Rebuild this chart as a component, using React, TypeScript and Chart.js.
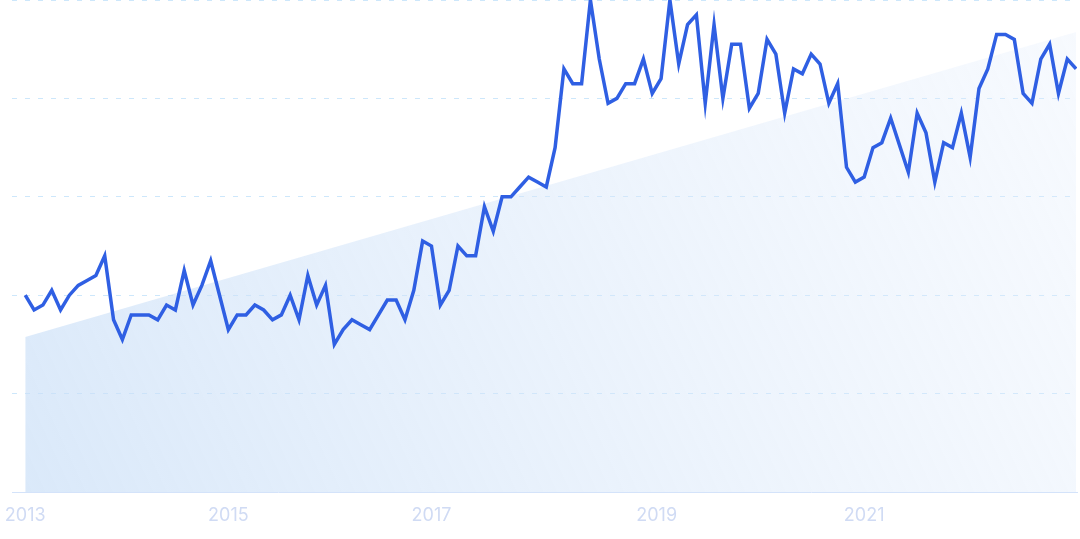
import React, { useEffect, useRef } from "react";
import { Chart, registerables } from "chart.js";

Chart.register(...registerables);

// Monthly values, Jan 2013 .. Dec 2022 (relative interest, 0-100)
const values2013 = [40, 37, 38, 41, 37, 40, 42, 43, 44, 48, 35, 31];
const values2014 = [36, 36, 36, 35, 38, 37, 45, 38, 42, 47, 40, 33];
const values2015 = [36, 36, 38, 37, 35, 36, 40, 35, 44, 38, 42, 30];
const values2016 = [33, 35, 34, 33, 36, 39, 39, 35, 41, 51, 50, 38];
const values2017 = [41, 50, 48, 48, 58, 53, 60, 60, 62, 64, 63, 62];
const values2018 = [70, 86, 83, 83, 100, 88, 79, 80, 83, 83, 88, 81];
const values2019 = [84, 100, 87, 95, 97, 79, 95, 80, 91, 91, 78, 81];
const values2020 = [92, 89, 77, 86, 85, 89, 87, 79, 83, 66, 63, 64];
const values2021 = [70, 71, 76, 70.5, 65, 77, 73, 63, 71, 70, 77, 68];
const values2022 = [82, 86, 93, 93, 92, 81, 79, 88, 91, 81, 88, 86];

const seriesValues = [
  ...values2013, ...values2014, ...values2015, ...values2016, ...values2017,
  ...values2018, ...values2019, ...values2020, ...values2021, ...values2022,
];

// Trend band: start and end values
const trendStart = 31.5;
const trendEnd = 93.5;

// Year tick labels and their month-index positions
const yearLabels = ["2013", "2015", "2017", "2019", "2021"];
const yearTickMonths = [0, 23, 46, 71.5, 95];

const yGridValues = [0, 20, 40, 60, 80, 100];

export default function App() {
  const canvasRef = useRef<HTMLCanvasElement | null>(null);

  useEffect(() => {
    const canvas = canvasRef.current;
    if (!canvas) return;
    const lastIndex = seriesValues.length - 1;
    const lineData = seriesValues.map((v, i) => ({ x: i, y: v }));
    const trendData = [
      { x: 0, y: trendStart },
      { x: lastIndex, y: trendEnd },
    ];

    const chart = new Chart(canvas, {
      type: "line",
      data: {
        datasets: [
          {
            data: lineData,
            borderColor: "#2f5fe3",
            borderWidth: 3.5,
            pointRadius: 0,
            tension: 0,
            fill: false,
            order: 1,
            borderJoinStyle: "miter",
          },
          {
            data: trendData,
            borderWidth: 0,
            borderColor: "rgba(0,0,0,0)",
            pointRadius: 0,
            fill: "origin",
            order: 2,
            backgroundColor: (ctx: any) => {
              const ch = ctx.chart;
              const area = ch.chartArea;
              if (!area) return "rgba(220,234,250,0.7)";
              const g = ch.ctx.createLinearGradient(area.left, area.bottom, area.right, area.top);
              g.addColorStop(0, "rgba(200,222,247,0.68)");
              g.addColorStop(1, "rgba(228,238,252,0.3)");
              return g;
            },
          },
        ],
      },
      options: {
        animation: false,
        responsive: true,
        maintainAspectRatio: false,
        layout: { padding: { left: 12, right: 3, top: 0, bottom: 0 } },
        plugins: { legend: { display: false }, tooltip: { enabled: false } },
        scales: {
          x: {
            type: "linear",
            min: -1.5,
            max: lastIndex + 0.1,
            grid: { display: false, drawTicks: false },
            border: { display: true, color: "#d4e3fa", width: 1 },
            afterBuildTicks: (scale: any) => {
              scale.ticks = yearTickMonths.map((v) => ({ value: v }));
            },
            afterFit: (scale: any) => {
              scale.height = 47;
              scale.paddingLeft = 0;
              scale.paddingRight = 0;
            },
            ticks: {
              autoSkip: false,
              maxRotation: 0,
              padding: 13,
              color: "#d0dbf4",
              font: { family: "Inter", size: 18 },
              callback: (value: any) => {
                const idx = yearTickMonths.indexOf(Number(value));
                return idx >= 0 ? yearLabels[idx] : "";
              },
            },
          },
          y: {
            min: 0,
            max: 100,
            afterBuildTicks: (scale: any) => {
              scale.ticks = yGridValues.map((v) => ({ value: v }));
            },
            afterFit: (scale: any) => {
              scale.width = 0;
              scale.paddingTop = 0;
              scale.paddingBottom = 0;
            },
            ticks: { display: false },
            border: { display: false, dash: [5, 8] },
            grid: {
              drawTicks: false,
              lineWidth: 1,
              color: (ctx: any) =>
                ctx.tick && ctx.tick.value === 0 ? "rgba(0,0,0,0)" : "#cde7fb",
            },
          },
        },
      },
    });
    return () => chart.destroy();
  }, []);

  return (
    <div style={{ position: "fixed", left: 0, top: 0, width: 1080, height: 539, background: "#ffffff" }}>
      <canvas ref={canvasRef} />
    </div>
  );
}
